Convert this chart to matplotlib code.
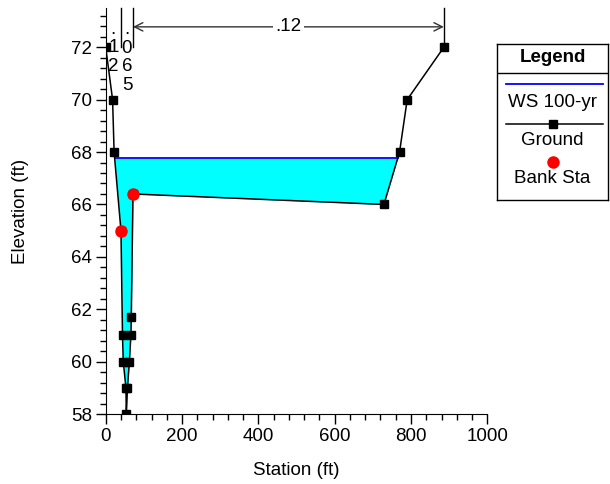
import numpy as np
import matplotlib.pyplot as plt
from matplotlib.ticker import MultipleLocator

plt.rcParams['font.family'] = ['Liberation Sans', 'DejaVu Sans']
plt.rcParams['font.size'] = 13.5

# cross section geometry
station = [0, 18, 22, 40, 44, 46, 53, 54, 57, 62, 66, 67, 71.5, 729, 770, 790, 886]
elev = [72, 70, 68, 65, 61, 60, 59, 58, 59, 60, 61, 61.7, 66.4, 66, 68, 70, 72]
bank_sta = [40, 71.5]
bank_elev = [65, 66.4]
ws_elev = 67.76

# manning's n by reach: (start, end, label)
n_values = [(0, 40, ".12"), (40, 71.5, ".065"), (71.5, 886, ".12")]

x = np.array(station, float)
z = np.array(elev, float)


def crossings(x, z, level):
    pts = []
    for i in range(len(x) - 1):
        a, b = z[i] - level, z[i + 1] - level
        if a * b < 0:
            pts.append(x[i] + (x[i + 1] - x[i]) * a / (a - b))
    return pts


wet = crossings(x, z, ws_elev)

fig = plt.figure(figsize=(6.1, 4.84), dpi=100)
ax = fig.add_axes([0.1733, 0.1446, 0.6256, 0.8389])

ax.fill_between(x, z, ws_elev, where=z < ws_elev, interpolate=True,
                color='#00ffff', lw=0, zorder=1)
ax.plot([wet[0], wet[-1]], [ws_elev, ws_elev], color='#0000ff', lw=1.3, zorder=2)
ax.plot(x, z, color='black', lw=1.1, marker='s', ms=5.5, zorder=3)
ax.plot(bank_sta, bank_elev, 'o', color='#ff0000', ms=9, mec='none', zorder=4)

ax.set_xlim(0, 1000)
ax.set_ylim(58, 73.5)
ax.xaxis.set_major_locator(MultipleLocator(200))
ax.xaxis.set_minor_locator(MultipleLocator(40))
ax.yaxis.set_major_locator(MultipleLocator(2))
ax.yaxis.set_minor_locator(MultipleLocator(0.4))
ax.tick_params(which='major', length=7, width=1, pad=3, direction='out')
ax.tick_params(which='minor', length=4, width=1, direction='out')
for s in ['top', 'right']:
    ax.spines[s].set_visible(False)

ax.set_xlabel('Station (ft)', va='center')
ax.xaxis.set_label_coords(0.5, -0.138)
ax.set_ylabel('Elevation (ft)', va='center')
ax.yaxis.set_label_coords(-0.224, 0.5)

# bank station ticks and n-value labels along the top
for s in [bank_sta[0], bank_sta[1], station[-1]]:
    ax.plot([s, s], [72, 73.5], color='black', lw=1, clip_on=False)
for s0, s1, lab in n_values:
    mid = (s0 + s1) / 2
    if s1 - s0 > 100:
        ax.annotate('', xy=(s0, 72.78), xytext=(s1, 72.78),
                    arrowprops=dict(arrowstyle='<->', color='#333333', lw=1,
                                    mutation_scale=15, shrinkA=0, shrinkB=0))
        ax.text(mid, 72.78, lab, ha='center', va='center',
                bbox=dict(fc='white', ec='none', pad=1.5))
    else:
        ax.text(mid, 71.98 - 0.37 * (len(lab) - 3), '\n'.join(lab),
                ha='center', va='center', linespacing=1.12)

# legend box
lg = fig.add_axes([497 / 610, 1 - 200 / 484, 111 / 610, 156 / 484])
lg.set_xlim(0, 111)
lg.set_ylim(156, 0)
lg.set_xticks([])
lg.set_yticks([])
for sp in lg.spines.values():
    sp.set_linewidth(1)
lg.text(55.5, 14, 'Legend', ha='center', va='center', fontweight='bold')
lg.plot([0, 111], [29, 29], color='black', lw=1)
lg.plot([9, 106], [40.5, 40.5], color='#0000ff', lw=1.3)
lg.text(55.5, 59, 'WS 100-yr', ha='center', va='center')
lg.plot([9, 106], [80, 80], color='black', lw=1.1)
lg.plot([56], [80], 's', color='black', ms=5.5)
lg.text(55.5, 96.5, 'Ground', ha='center', va='center')
lg.plot([56], [118.5], 'o', color='#ff0000', ms=9, mec='none')
lg.text(55.5, 134.5, 'Bank Sta', ha='center', va='center')

fig.savefig('out.png', dpi=100)
